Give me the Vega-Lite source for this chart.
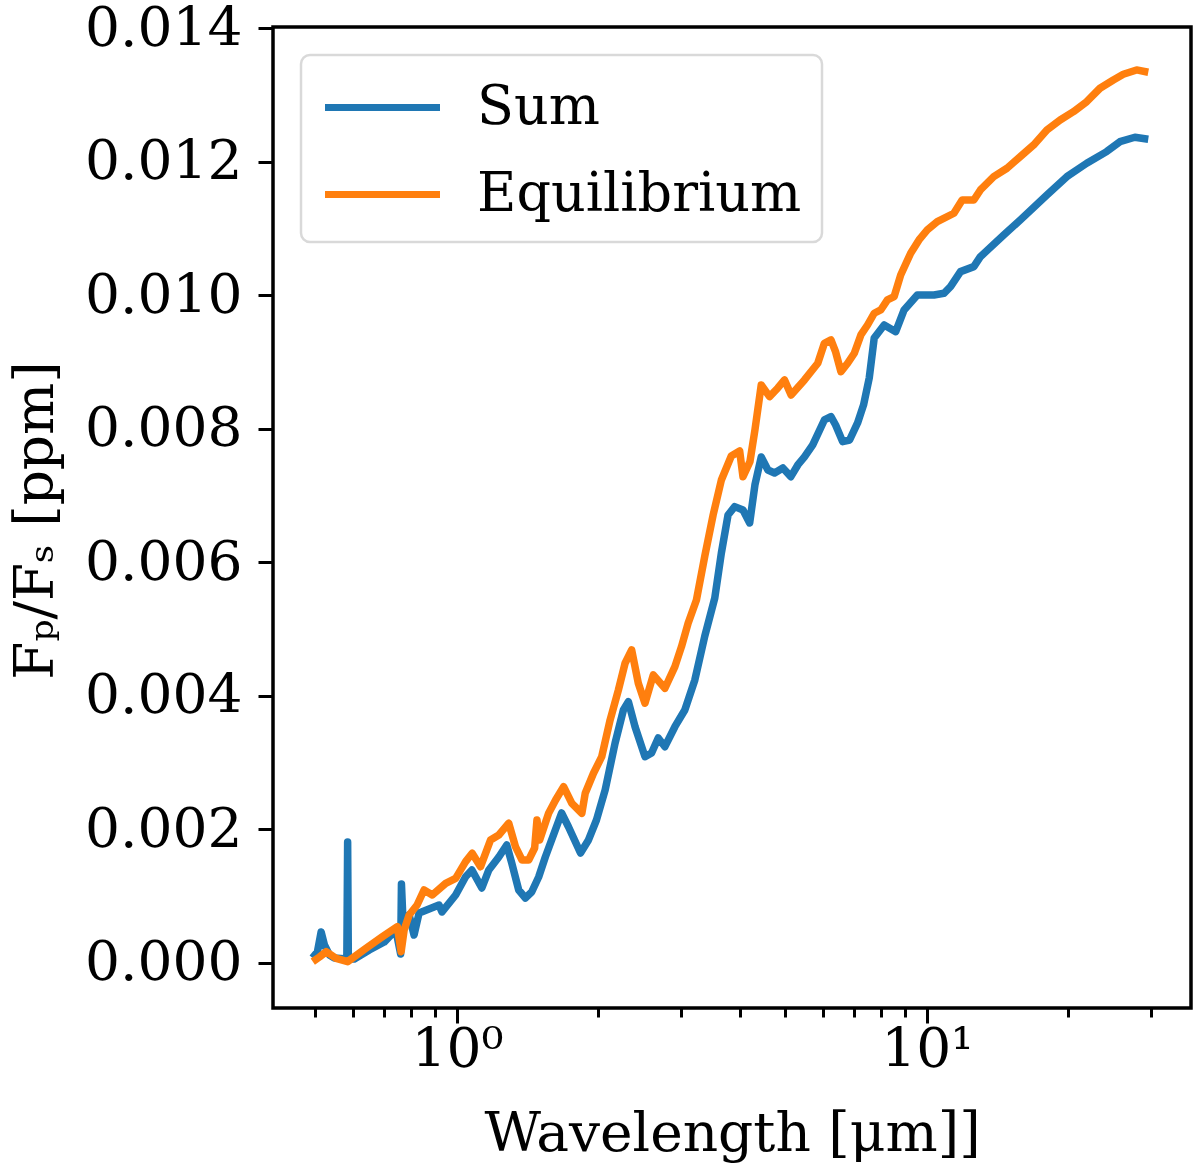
{
  "$schema": "https://vega.github.io/schema/vega-lite/v6.json",
  "autosize": {"type": "none"},
  "width": 918,
  "height": 981,
  "padding": {"left": 273, "top": 27, "right": 9, "bottom": 166},
  "background": "white",
  "config": {
    "font": "DejaVu Serif",
    "view": {"stroke": "black", "strokeWidth": 3.5}
  },
  "data": {
    "values": [
      {"series": "Sum", "wl": 0.4927, "fr": 0.000075},
      {"series": "Sum", "wl": 0.5047, "fr": 0.000165},
      {"series": "Sum", "wl": 0.5140, "fr": 0.000464},
      {"series": "Sum", "wl": 0.5224, "fr": 0.000270},
      {"series": "Sum", "wl": 0.5353, "fr": 0.000120},
      {"series": "Sum", "wl": 0.5485, "fr": 0.000075},
      {"series": "Sum", "wl": 0.5830, "fr": 0.000060},
      {"series": "Sum", "wl": 0.5853, "fr": 0.001812},
      {"series": "Sum", "wl": 0.5873, "fr": 0.000060},
      {"series": "Sum", "wl": 0.6047, "fr": 0.000060},
      {"series": "Sum", "wl": 0.6508, "fr": 0.000195},
      {"series": "Sum", "wl": 0.7002, "fr": 0.000314},
      {"series": "Sum", "wl": 0.7413, "fr": 0.000494},
      {"series": "Sum", "wl": 0.7589, "fr": 0.000135},
      {"series": "Sum", "wl": 0.7619, "fr": 0.001183},
      {"series": "Sum", "wl": 0.7683, "fr": 0.000569},
      {"series": "Sum", "wl": 0.7911, "fr": 0.000719},
      {"series": "Sum", "wl": 0.8105, "fr": 0.000419},
      {"series": "Sum", "wl": 0.8307, "fr": 0.000749},
      {"series": "Sum", "wl": 0.9158, "fr": 0.000868},
      {"series": "Sum", "wl": 0.9294, "fr": 0.000764},
      {"series": "Sum", "wl": 0.9937, "fr": 0.001018},
      {"series": "Sum", "wl": 1.0434, "fr": 0.001292},
      {"series": "Sum", "wl": 1.0760, "fr": 0.001393},
      {"series": "Sum", "wl": 1.1297, "fr": 0.001123},
      {"series": "Sum", "wl": 1.1692, "fr": 0.001393},
      {"series": "Sum", "wl": 1.2278, "fr": 0.001587},
      {"series": "Sum", "wl": 1.2764, "fr": 0.001767},
      {"series": "Sum", "wl": 1.3080, "fr": 0.001497},
      {"series": "Sum", "wl": 1.3535, "fr": 0.001093},
      {"series": "Sum", "wl": 1.3985, "fr": 0.000973},
      {"series": "Sum", "wl": 1.4423, "fr": 0.001063},
      {"series": "Sum", "wl": 1.4925, "fr": 0.001288},
      {"series": "Sum", "wl": 1.5421, "fr": 0.001587},
      {"series": "Sum", "wl": 1.6194, "fr": 0.001992},
      {"series": "Sum", "wl": 1.6701, "fr": 0.002246},
      {"series": "Sum", "wl": 1.7281, "fr": 0.002036},
      {"series": "Sum", "wl": 1.8323, "fr": 0.001647},
      {"series": "Sum", "wl": 1.9055, "fr": 0.001842},
      {"series": "Sum", "wl": 1.9813, "fr": 0.002141},
      {"series": "Sum", "wl": 2.0674, "fr": 0.002591},
      {"series": "Sum", "wl": 2.1708, "fr": 0.003294},
      {"series": "Sum", "wl": 2.2609, "fr": 0.003788},
      {"series": "Sum", "wl": 2.3167, "fr": 0.003913},
      {"series": "Sum", "wl": 2.3937, "fr": 0.003538},
      {"series": "Sum", "wl": 2.5131, "fr": 0.003089},
      {"series": "Sum", "wl": 2.5955, "fr": 0.003145},
      {"series": "Sum", "wl": 2.6818, "fr": 0.003369},
      {"series": "Sum", "wl": 2.7710, "fr": 0.003239},
      {"series": "Sum", "wl": 2.9098, "fr": 0.003538},
      {"series": "Sum", "wl": 3.0549, "fr": 0.003788},
      {"series": "Sum", "wl": 3.2086, "fr": 0.004238},
      {"series": "Sum", "wl": 3.3693, "fr": 0.004896},
      {"series": "Sum", "wl": 3.5380, "fr": 0.005466},
      {"series": "Sum", "wl": 3.6540, "fr": 0.006139},
      {"series": "Sum", "wl": 3.7755, "fr": 0.006708},
      {"series": "Sum", "wl": 3.9011, "fr": 0.006833},
      {"series": "Sum", "wl": 4.0626, "fr": 0.006783},
      {"series": "Sum", "wl": 4.1976, "fr": 0.006589},
      {"series": "Sum", "wl": 4.3073, "fr": 0.007158},
      {"series": "Sum", "wl": 4.4424, "fr": 0.007577},
      {"series": "Sum", "wl": 4.5902, "fr": 0.007382},
      {"series": "Sum", "wl": 4.7428, "fr": 0.007337},
      {"series": "Sum", "wl": 4.9391, "fr": 0.007412},
      {"series": "Sum", "wl": 5.1362, "fr": 0.007282},
      {"series": "Sum", "wl": 5.3145, "fr": 0.007457},
      {"series": "Sum", "wl": 5.4910, "fr": 0.007577},
      {"series": "Sum", "wl": 5.7178, "fr": 0.007757},
      {"series": "Sum", "wl": 6.0534, "fr": 0.008131},
      {"series": "Sum", "wl": 6.2517, "fr": 0.008180},
      {"series": "Sum", "wl": 6.3966, "fr": 0.008056},
      {"series": "Sum", "wl": 6.6199, "fr": 0.007806},
      {"series": "Sum", "wl": 6.8495, "fr": 0.007831},
      {"series": "Sum", "wl": 7.1232, "fr": 0.008086},
      {"series": "Sum", "wl": 7.3349, "fr": 0.008356},
      {"series": "Sum", "wl": 7.5420, "fr": 0.008760},
      {"series": "Sum", "wl": 7.7280, "fr": 0.009359},
      {"series": "Sum", "wl": 8.1143, "fr": 0.009553},
      {"series": "Sum", "wl": 8.5874, "fr": 0.009453},
      {"series": "Sum", "wl": 8.9472, "fr": 0.009778},
      {"series": "Sum", "wl": 9.5466, "fr": 0.010003},
      {"series": "Sum", "wl": 10.359, "fr": 0.010003},
      {"series": "Sum", "wl": 10.877, "fr": 0.010028},
      {"series": "Sum", "wl": 11.233, "fr": 0.010127},
      {"series": "Sum", "wl": 11.796, "fr": 0.010352},
      {"series": "Sum", "wl": 12.592, "fr": 0.010427},
      {"series": "Sum", "wl": 13.004, "fr": 0.010576},
      {"series": "Sum", "wl": 14.578, "fr": 0.010901},
      {"series": "Sum", "wl": 15.810, "fr": 0.011126},
      {"series": "Sum", "wl": 18.013, "fr": 0.011500},
      {"series": "Sum", "wl": 19.861, "fr": 0.011774},
      {"series": "Sum", "wl": 21.894, "fr": 0.011975},
      {"series": "Sum", "wl": 24.140, "fr": 0.012149},
      {"series": "Sum", "wl": 25.763, "fr": 0.012298},
      {"series": "Sum", "wl": 27.722, "fr": 0.012364},
      {"series": "Sum", "wl": 29.604, "fr": 0.012334},
      {"series": "Equilibrium", "wl": 0.4934, "fr": 0.000020},
      {"series": "Equilibrium", "wl": 0.5098, "fr": 0.000090},
      {"series": "Equilibrium", "wl": 0.5268, "fr": 0.000169},
      {"series": "Equilibrium", "wl": 0.5531, "fr": 0.000070},
      {"series": "Equilibrium", "wl": 0.5853, "fr": 0.000020},
      {"series": "Equilibrium", "wl": 0.6404, "fr": 0.000220},
      {"series": "Equilibrium", "wl": 0.6944, "fr": 0.000394},
      {"series": "Equilibrium", "wl": 0.7468, "fr": 0.000544},
      {"series": "Equilibrium", "wl": 0.7607, "fr": 0.000169},
      {"series": "Equilibrium", "wl": 0.7720, "fr": 0.000494},
      {"series": "Equilibrium", "wl": 0.7911, "fr": 0.000719},
      {"series": "Equilibrium", "wl": 0.8226, "fr": 0.000868},
      {"series": "Equilibrium", "wl": 0.8511, "fr": 0.001093},
      {"series": "Equilibrium", "wl": 0.8863, "fr": 0.001018},
      {"series": "Equilibrium", "wl": 0.9463, "fr": 0.001193},
      {"series": "Equilibrium", "wl": 0.9937, "fr": 0.001268},
      {"series": "Equilibrium", "wl": 1.0434, "fr": 0.001517},
      {"series": "Equilibrium", "wl": 1.0775, "fr": 0.001643},
      {"series": "Equilibrium", "wl": 1.1227, "fr": 0.001442},
      {"series": "Equilibrium", "wl": 1.1789, "fr": 0.001842},
      {"series": "Equilibrium", "wl": 1.2278, "fr": 0.001917},
      {"series": "Equilibrium", "wl": 1.2891, "fr": 0.002092},
      {"series": "Equilibrium", "wl": 1.3320, "fr": 0.001742},
      {"series": "Equilibrium", "wl": 1.3757, "fr": 0.001542},
      {"series": "Equilibrium", "wl": 1.4214, "fr": 0.001542},
      {"series": "Equilibrium", "wl": 1.4635, "fr": 0.001722},
      {"series": "Equilibrium", "wl": 1.4801, "fr": 0.002141},
      {"series": "Equilibrium", "wl": 1.4997, "fr": 0.001842},
      {"series": "Equilibrium", "wl": 1.5671, "fr": 0.002242},
      {"series": "Equilibrium", "wl": 1.6218, "fr": 0.002441},
      {"series": "Equilibrium", "wl": 1.6866, "fr": 0.002640},
      {"series": "Equilibrium", "wl": 1.7563, "fr": 0.002391},
      {"series": "Equilibrium", "wl": 1.8442, "fr": 0.002242},
      {"series": "Equilibrium", "wl": 1.8750, "fr": 0.002541},
      {"series": "Equilibrium", "wl": 1.9525, "fr": 0.002841},
      {"series": "Equilibrium", "wl": 2.0332, "fr": 0.003089},
      {"series": "Equilibrium", "wl": 2.1184, "fr": 0.003639},
      {"series": "Equilibrium", "wl": 2.2061, "fr": 0.004088},
      {"series": "Equilibrium", "wl": 2.2795, "fr": 0.004488},
      {"series": "Equilibrium", "wl": 2.3543, "fr": 0.004687},
      {"series": "Equilibrium", "wl": 2.4322, "fr": 0.004188},
      {"series": "Equilibrium", "wl": 2.5131, "fr": 0.003889},
      {"series": "Equilibrium", "wl": 2.6173, "fr": 0.004313},
      {"series": "Equilibrium", "wl": 2.7710, "fr": 0.004113},
      {"series": "Equilibrium", "wl": 2.9098, "fr": 0.004437},
      {"series": "Equilibrium", "wl": 3.0052, "fr": 0.004736},
      {"series": "Equilibrium", "wl": 3.1046, "fr": 0.005087},
      {"series": "Equilibrium", "wl": 3.2338, "fr": 0.005436},
      {"series": "Equilibrium", "wl": 3.3693, "fr": 0.006094},
      {"series": "Equilibrium", "wl": 3.5094, "fr": 0.006708},
      {"series": "Equilibrium", "wl": 3.6540, "fr": 0.007232},
      {"series": "Equilibrium", "wl": 3.8365, "fr": 0.007592},
      {"series": "Equilibrium", "wl": 3.9970, "fr": 0.007667},
      {"series": "Equilibrium", "wl": 4.0626, "fr": 0.007282},
      {"series": "Equilibrium", "wl": 4.2034, "fr": 0.007507},
      {"series": "Equilibrium", "wl": 4.3073, "fr": 0.007981},
      {"series": "Equilibrium", "wl": 4.4424, "fr": 0.008655},
      {"series": "Equilibrium", "wl": 4.6277, "fr": 0.008480},
      {"series": "Equilibrium", "wl": 4.8192, "fr": 0.008610},
      {"series": "Equilibrium", "wl": 4.9795, "fr": 0.008730},
      {"series": "Equilibrium", "wl": 5.1426, "fr": 0.008505},
      {"series": "Equilibrium", "wl": 5.4910, "fr": 0.008730},
      {"series": "Equilibrium", "wl": 5.8608, "fr": 0.008980},
      {"series": "Equilibrium", "wl": 6.0534, "fr": 0.009279},
      {"series": "Equilibrium", "wl": 6.2517, "fr": 0.009329},
      {"series": "Equilibrium", "wl": 6.3966, "fr": 0.009149},
      {"series": "Equilibrium", "wl": 6.5656, "fr": 0.008854},
      {"series": "Equilibrium", "wl": 6.7839, "fr": 0.008980},
      {"series": "Equilibrium", "wl": 7.0096, "fr": 0.009130},
      {"series": "Equilibrium", "wl": 7.2392, "fr": 0.009404},
      {"series": "Equilibrium", "wl": 7.4797, "fr": 0.009553},
      {"series": "Equilibrium", "wl": 7.7280, "fr": 0.009729},
      {"series": "Equilibrium", "wl": 7.9799, "fr": 0.009778},
      {"series": "Equilibrium", "wl": 8.2450, "fr": 0.009928},
      {"series": "Equilibrium", "wl": 8.5207, "fr": 0.009977},
      {"series": "Equilibrium", "wl": 8.7988, "fr": 0.010302},
      {"series": "Equilibrium", "wl": 9.2396, "fr": 0.010627},
      {"series": "Equilibrium", "wl": 9.6249, "fr": 0.010826},
      {"series": "Equilibrium", "wl": 10.025, "fr": 0.010976},
      {"series": "Equilibrium", "wl": 10.527, "fr": 0.011100},
      {"series": "Equilibrium", "wl": 11.420, "fr": 0.011226},
      {"series": "Equilibrium", "wl": 11.893, "fr": 0.011425},
      {"series": "Equilibrium", "wl": 12.592, "fr": 0.011425},
      {"series": "Equilibrium", "wl": 13.004, "fr": 0.011575},
      {"series": "Equilibrium", "wl": 13.882, "fr": 0.011774},
      {"series": "Equilibrium", "wl": 14.814, "fr": 0.011900},
      {"series": "Equilibrium", "wl": 15.810, "fr": 0.012074},
      {"series": "Equilibrium", "wl": 16.883, "fr": 0.012249},
      {"series": "Equilibrium", "wl": 18.013, "fr": 0.012473},
      {"series": "Equilibrium", "wl": 19.222, "fr": 0.012623},
      {"series": "Equilibrium", "wl": 20.518, "fr": 0.012747},
      {"series": "Equilibrium", "wl": 21.894, "fr": 0.012897},
      {"series": "Equilibrium", "wl": 23.365, "fr": 0.013098},
      {"series": "Equilibrium", "wl": 24.946, "fr": 0.013222},
      {"series": "Equilibrium", "wl": 26.194, "fr": 0.013307},
      {"series": "Equilibrium", "wl": 27.953, "fr": 0.013372},
      {"series": "Equilibrium", "wl": 29.604, "fr": 0.013337}
    ]
  },
  "encoding": {
    "x": {
      "field": "wl",
      "type": "quantitative",
      "scale": {"type": "log", "domain": [0.406, 36.5], "nice": false},
      "axis": {
        "title": "Wavelength [μm]]",
        "values": [0.5, 0.6, 0.7, 0.8, 0.9, 1, 2, 3, 4, 5, 6, 7, 8, 9, 10, 20, 30],
        "labelExpr": "datum.value == 1 ? '10⁰' : (datum.value == 10 ? '10¹' : '')",
        "tickSize": {"condition": {"test": "datum.value == 1 || datum.value == 10", "value": 15}, "value": 9},
        "tickWidth": 3,
        "tickColor": "black",
        "domain": false,
        "grid": false,
        "labelFontSize": 55,
        "labelColor": "black",
        "labelPadding": 0,
        "labelOverlap": false,
        "labelFlush": false,
        "titleFontSize": 55,
        "titleFontWeight": "normal",
        "titleColor": "black",
        "titleY": 125,
        "titleBaseline": "middle"
      }
    },
    "y": {
      "field": "fr",
      "type": "quantitative",
      "scale": {"domain": [-0.000674, 0.014015], "nice": false, "zero": false},
      "axis": {
        "title": "Fₚ/Fₛ [ppm]",
        "values": [0, 0.002, 0.004, 0.006, 0.008, 0.01, 0.012, 0.014],
        "format": ".3f",
        "tickSize": 15,
        "tickWidth": 3,
        "tickColor": "black",
        "domain": false,
        "grid": false,
        "labelFontSize": 55,
        "labelColor": "black",
        "labelPadding": 16,
        "titleFontSize": 55,
        "titleFontWeight": "normal",
        "titleColor": "black",
        "titleX": -238,
        "titleY": 493,
        "titleAngle": -90,
        "titleAlign": "center",
        "titleBaseline": "middle"
      }
    },
    "color": {
      "field": "series",
      "type": "nominal",
      "scale": {"domain": ["Sum", "Equilibrium"], "range": ["#1f77b4", "#ff7f0e"]},
      "legend": {
        "title": null,
        "orient": "none",
        "legendX": 28,
        "legendY": 28,
        "symbolType": "M-2,0H2",
        "symbolSize": 3306,
        "symbolOffset": 29,
        "symbolStrokeWidth": 7,
        "labelFontSize": 54,
        "labelColor": "black",
        "labelLimit": 800,
        "labelOffset": 62,
        "padding": 20,
        "rowPadding": 27,
        "strokeColor": "#d9d9d9",
        "cornerRadius": 9,
        "fillColor": "white",
        "encode": {"legend": {"update": {"strokeWidth": {"value": 2.5}}}}
      }
    }
  },
  "layer": [
    {
      "transform": [{"filter": "datum.series == 'Sum'"}],
      "mark": {"type": "line", "strokeWidth": 7.5, "strokeJoin": "round"}
    },
    {
      "transform": [{"filter": "datum.series == 'Equilibrium'"}],
      "mark": {"type": "line", "strokeWidth": 7.5, "strokeJoin": "round"}
    }
  ]
}
